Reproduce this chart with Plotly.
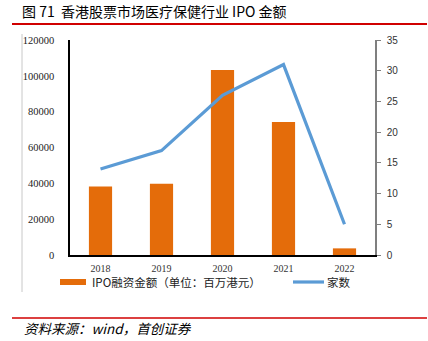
import plotly.graph_objects as go

# Hong Kong healthcare IPOs by year
years = ["2018", "2019", "2020", "2021", "2022"]
ipo_amount = [38300, 39800, 103300, 74200, 3700]   # million HKD
ipo_count = [14, 17, 26, 31, 5]

left_ticks = [0, 20000, 40000, 60000, 80000, 100000, 120000]
right_ticks = [0, 5, 10, 15, 20, 25, 30, 35]

bar_name = "IPO融资金额（单位：百万港元）"
line_name = "家数"
title_text = "图 71  香港股票市场医疗保健行业 IPO 金额"
source_text = "资料来源：wind，首创证券"

W, H = 428, 341
L, R, T, B = 70, 375, 40, 255   # plot area in pixels

def px(x):
    return (x - L) / (R - L)

def py(y):
    return (B - y) / (B - T)

BAR_COLOR = "#E46C0A"
LINE_COLOR = "#5B9BD5"
SERIF = "Liberation Serif, Times New Roman, serif"
SANS = "Liberation Sans, Arial, sans-serif"
CJK = "Noto Sans CJK SC, sans-serif"

fig = go.Figure()
fig.add_trace(go.Bar(
    x=years, y=ipo_amount, name=bar_name,
    marker=dict(color=BAR_COLOR, line=dict(width=0)),
    yaxis="y", showlegend=False,
))
fig.add_trace(go.Scatter(
    x=years, y=ipo_count, name=line_name, mode="lines",
    line=dict(color=LINE_COLOR, width=3.2),
    yaxis="y2", showlegend=False,
))

shapes = [
    # rule under the title
    dict(type="line", xref="paper", yref="paper",
         x0=px(12), x1=px(427), y0=py(24), y1=py(24),
         line=dict(color="#D00000", width=2)),
    # rule above the source line
    dict(type="line", xref="paper", yref="paper",
         x0=px(12), x1=px(427), y0=py(318), y1=py(318),
         line=dict(color="#D00000", width=1.5)),
    # thin frame line on the left
    dict(type="line", xref="paper", yref="paper",
         x0=px(22), x1=px(22), y0=py(34), y1=py(292),
         line=dict(color="#C8C8C8", width=1)),
    # legend swatches
    dict(type="rect", xref="paper", yref="paper",
         x0=px(60), x1=px(86), y0=py(285), y1=py(279),
         fillcolor=BAR_COLOR, line=dict(width=0)),
    dict(type="line", xref="paper", yref="paper",
         x0=px(293), x1=px(324), y0=py(282), y1=py(282),
         line=dict(color=LINE_COLOR, width=3.2)),
]

annotations = [
    dict(text=bar_name, xref="paper", yref="paper", x=px(90), y=py(282),
         xanchor="left", yanchor="middle", align="left", showarrow=False,
         font=dict(family=CJK, size=11.5, color="#222222")),
    dict(text=line_name, xref="paper", yref="paper", x=px(325), y=py(282),
         xanchor="left", yanchor="middle", align="left", showarrow=False,
         font=dict(family=CJK, size=11.5, color="#222222")),
    dict(text="<i>" + source_text + "</i>", xref="paper", yref="paper",
         x=px(22), y=py(328), xanchor="left", yanchor="middle", align="left",
         showarrow=False,
         font=dict(family=CJK, size=13.5, color="#000000")),
]

fig.update_layout(
    width=W, height=H, autosize=False,
    margin=dict(l=L, r=W - R, t=T, b=H - B, pad=0),
    paper_bgcolor="white", plot_bgcolor="white",
    title=dict(text=title_text, xref="container", yref="container",
               x=22 / W, y=1 - 12 / H, xanchor="left", yanchor="middle",
               font=dict(family=CJK, size=14, color="#000000")),
    bargap=0.62,
    xaxis=dict(type="category", range=[-0.5, 4.5],
               showline=True, linecolor="#000000", linewidth=1.5,
               ticks="", showgrid=False, zeroline=False,
               tickfont=dict(family=SERIF, size=10, color="#333333"),
               ticklabelstandoff=3),
    yaxis=dict(range=[0, 120000], tickvals=left_ticks, tickformat="d",
               showline=True, linecolor="#000000", linewidth=1.5,
               ticks="", showgrid=False, zeroline=False,
               tickfont=dict(family=SERIF, size=10.5, color="#222222"),
               ticklabelstandoff=12),
    yaxis2=dict(range=[0, 35], tickvals=right_ticks, overlaying="y", side="right",
                showline=True, linecolor="#7F7F7F", linewidth=1.5,
                ticks="outside", ticklen=4, tickcolor="#7F7F7F", tickwidth=1,
                showgrid=False, zeroline=False,
                tickfont=dict(family=SANS, size=10, color="#333333"),
                ticklabelstandoff=4),
    shapes=shapes, annotations=annotations,
)

fig.write_html("out.html")
